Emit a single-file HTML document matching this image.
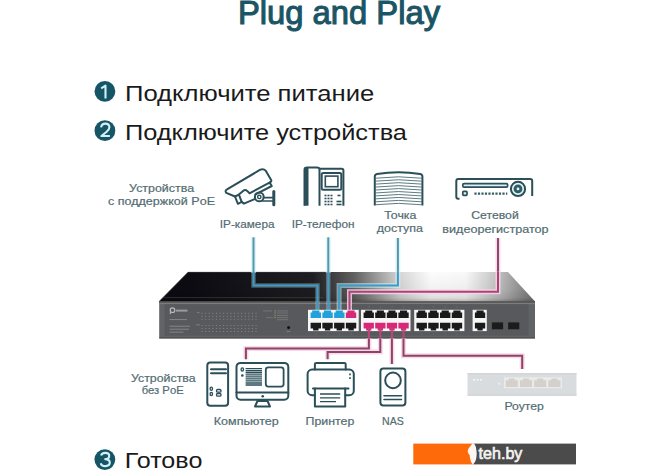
<!DOCTYPE html>
<html><head><meta charset="utf-8">
<style>
html,body{margin:0;padding:0;background:#fff;width:670px;height:471px;overflow:hidden}
svg{display:block}
text{font-family:"Liberation Sans",sans-serif}
.lbl{fill:#536c72;font-size:11.3px;stroke:#536c72;stroke-width:0.2px}
.ic{fill:none;stroke:#2a4f58;stroke-width:2;stroke-linecap:round;stroke-linejoin:round}
</style></head>
<body>
<svg width="670" height="471" viewBox="0 0 670 471">
<defs>
<linearGradient id="topg" x1="188" y1="0" x2="535" y2="0" gradientUnits="userSpaceOnUse">
<stop offset="0" stop-color="#0c0b12"/>
<stop offset="0.36" stop-color="#1e1e22"/>
<stop offset="0.48" stop-color="#626262"/>
<stop offset="0.61" stop-color="#d6d6d6"/>
<stop offset="0.7" stop-color="#fcfcfc"/>
<stop offset="0.8" stop-color="#f8f8f8"/>
<stop offset="0.9" stop-color="#bdbdbd"/>
<stop offset="1" stop-color="#737373"/>
</linearGradient>
<linearGradient id="topv" x1="0" y1="272" x2="0" y2="301.5" gradientUnits="userSpaceOnUse">
<stop offset="0" stop-color="#000" stop-opacity="0"/>
<stop offset="0.6" stop-color="#000" stop-opacity="0.04"/>
<stop offset="0.88" stop-color="#000" stop-opacity="0.12"/>
<stop offset="1" stop-color="#000" stop-opacity="0.28"/>
</linearGradient>
</defs>

<text x="238" y="23.8" font-size="33" fill="#1b5565" textLength="202" lengthAdjust="spacingAndGlyphs" stroke="#1b5565" stroke-width="1.1">Plug and Play</text>
<circle cx="104.9" cy="91.4" r="10.4" fill="#165565"/>
<path d="M101.2,88.4 L105.5,85.7 V98.5" fill="none" stroke="#d2f1f6" stroke-width="2.1" stroke-linejoin="round"/>
<text x="125" y="100.6" font-size="22" fill="#1a1a1a" textLength="249.2" lengthAdjust="spacingAndGlyphs" >Подключите питание</text>
<circle cx="104.9" cy="130.7" r="10.4" fill="#165565"/>
<path d="M101.1,127.4 Q101.5,123.6 105.4,123.6 Q109.4,123.6 109.4,127.3 Q109.4,129.6 106.4,132 L101.4,136 H109.9" fill="none" stroke="#d2f1f6" stroke-width="2.1" stroke-linejoin="round"/>
<text x="125" y="140.0" font-size="22" fill="#1a1a1a" textLength="282" lengthAdjust="spacingAndGlyphs" >Подключите устройства</text>
<text class="lbl" x="129.1" y="192" textLength="65" lengthAdjust="spacingAndGlyphs">Устройства</text>
<text class="lbl" x="108" y="205.4" textLength="107" lengthAdjust="spacingAndGlyphs">с поддержкой PoE</text>
<text class="lbl" x="219.8" y="228.1" textLength="54.7" lengthAdjust="spacingAndGlyphs">IP-камера</text>
<text class="lbl" x="291.7" y="228.3" textLength="62.8" lengthAdjust="spacingAndGlyphs">IP-телефон</text>
<text class="lbl" x="384.2" y="219.2" textLength="32.2" lengthAdjust="spacingAndGlyphs">Точка</text>
<text class="lbl" x="376.8" y="231.8" textLength="46.2" lengthAdjust="spacingAndGlyphs">доступа</text>
<text class="lbl" x="471.2" y="219.3" textLength="47.6" lengthAdjust="spacingAndGlyphs">Сетевой</text>
<text class="lbl" x="442.3" y="232.6" textLength="106.3" lengthAdjust="spacingAndGlyphs">видеорегистратор</text>
<g class="ic" stroke-width="1.9">
<path d="M226.3,192.8 Q224.6,190.6 227,189.4 L260.3,169.7 Q263.5,168.3 265.6,170.6 L271.3,180.2 Q271.6,181.6 270,182.4 L249.5,193.3 L247.2,190.9 Q245.5,189.5 243.7,190.4 L238.9,194.6 L235,196.5 Z"/>
<path d="M269.6,182.6 L271.8,186 L255.5,194.3"/>
<path d="M241.7,201.9 L243.9,203.6 L254.6,199.2"/>
<path d="M235,196.5 L237.9,203.8 L241.7,201.9 L238.9,194.6"/>
<circle cx="259.3" cy="196.9" r="4.4"/>
<circle cx="259.3" cy="196.9" r="1.7" stroke-width="1.4"/>
<path d="M263.4,197.6 H272.5 M262.6,201 H272.5" stroke-width="1.6"/>
<path d="M273.8,191.6 V204.8" stroke-width="3"/>
</g>
<g transform="translate(290.5,155.7)">
<path d="M14,50 V14 Q14,11.7 16.5,11.7 H26.5 Q29,11.7 29,14 V50" fill="none" stroke="#2a4f58" stroke-width="2"/>
<rect x="14" y="12" width="4" height="38" fill="#2a4f58"/>
<path d="M29,13 H51.3 Q52.9,13 52.9,14.6 V50" fill="none" stroke="#2a4f58" stroke-width="2"/>
<rect x="31.2" y="17.3" width="19.6" height="16.8" rx="1.5" fill="none" stroke="#2a4f58" stroke-width="2"/>
<rect x="34.8" y="20.4" width="12.6" height="10.6" fill="none" stroke="#2a4f58" stroke-width="1.6"/>
<g fill="#2a4f58">
<rect x="34" y="39" width="2" height="1.6"/>
<rect x="37" y="39" width="2" height="1.6"/>
<rect x="40" y="39" width="2" height="1.6"/>
<rect x="34" y="42" width="2" height="1.6"/>
<rect x="37" y="42" width="2" height="1.6"/>
<rect x="40" y="42" width="2" height="1.6"/>
<rect x="34" y="45" width="2" height="1.6"/>
<rect x="37" y="45" width="2" height="1.6"/>
<rect x="40" y="45" width="2" height="1.6"/>
<rect x="34" y="48" width="2" height="1.6"/>
<rect x="37" y="48" width="2" height="1.6"/>
<rect x="40" y="48" width="2" height="1.6"/>
<rect x="47" y="39" width="3" height="1.6"/><rect x="46" y="45" width="5" height="1.6"/><rect x="46" y="48" width="5" height="1.6"/>
</g></g>
<g fill="none" stroke="#2a4f58">
<path d="M374.8,205.6 V176.5 Q374.8,174.3 377,173.9 Q398.6,170.6 420.2,173.9 Q422.4,174.3 422.4,176.5 V205.6" stroke-width="2"/>
<path d="M375.6,178.20 Q398.6,175.40 421.6,178.20" stroke-width="0.9" stroke="#4a6c74"/>
<path d="M375.6,181.15 Q398.6,178.35 421.6,181.15" stroke-width="0.9" stroke="#4a6c74"/>
<path d="M375.6,184.10 Q398.6,181.30 421.6,184.10" stroke-width="0.9" stroke="#4a6c74"/>
<path d="M375.6,187.05 Q398.6,184.25 421.6,187.05" stroke-width="0.9" stroke="#4a6c74"/>
<path d="M375.6,190.00 Q398.6,187.20 421.6,190.00" stroke-width="0.9" stroke="#4a6c74"/>
<path d="M375.6,192.95 Q398.6,190.15 421.6,192.95" stroke-width="0.9" stroke="#4a6c74"/>
<path d="M375.6,195.90 Q398.6,193.10 421.6,195.90" stroke-width="0.9" stroke="#4a6c74"/>
<path d="M375.6,198.85 Q398.6,196.05 421.6,198.85" stroke-width="0.9" stroke="#4a6c74"/>
<path d="M375.6,201.80 Q398.6,199.00 421.6,201.80" stroke-width="0.9" stroke="#4a6c74"/>
<path d="M375.6,204.75 Q398.6,201.95 421.6,204.75" stroke-width="0.9" stroke="#4a6c74"/>
</g>
<g transform="translate(445,165)" fill="none" stroke="#2a4f58">
<path d="M14.5,33.8 H13.2 Q11.3,33.8 11.3,31.8 V16 Q11.3,14 13.3,14 H85.2 Q87.2,14 87.2,16 V31" stroke-width="2"/>
<rect x="17.8" y="18.6" width="44.8" height="3.6" rx="1.2" stroke-width="1.7" fill="#d8f0f3"/>
<rect x="17.8" y="26.4" width="4.2" height="4" rx="0.8" stroke-width="1.7" fill="#d8f0f3"/>
<path d="M29.4,28.6 H62.3" stroke-width="2.2" stroke-dasharray="2.2 1.3" stroke="#3a5e66"/>
<circle cx="73" cy="23.9" r="7.1" stroke-width="2" fill="#e0f4f6"/>
<circle cx="73" cy="23.9" r="4.4" fill="#2f5c66" stroke="none"/>
<circle cx="73" cy="23.9" r="1.4" fill="#e8f8fa" stroke="none"/>
</g>
<polygon points="188,272 508,272 535,301.5 159,301.5" fill="url(#topg)"/>
<polygon points="188,272 508,272 535,301.5 159,301.5" fill="url(#topv)"/>
<polyline points="159.3,301.3 188.2,272.3 330,272.3" fill="none" stroke="#3c3c3c" stroke-width="0.9" opacity="0.7"/>
<rect x="159.2" y="301.6" width="375.8" height="36.8" fill="#616366"/>
<rect x="159.2" y="301.4" width="375.8" height="1.2" fill="#353535"/>
<rect x="159.2" y="302.6" width="375.8" height="1.6" fill="#7c7c7c"/>
<rect x="164.6" y="304.2" width="364" height="31.4" fill="#57595c"/>
<rect x="159.2" y="337.6" width="375.8" height="0.8" fill="#3a3a3a"/>
<rect x="163.5" y="297.2" width="160" height="0.9" fill="#555" opacity="0.5"/>
<g fill="#d0d0d0" opacity="0.8">
<path d="M170,314 L171.2,311.8" stroke="#d0d0d0" stroke-width="1.2" fill="none"/>
<circle cx="172.5" cy="310.2" r="2.3" fill="none" stroke="#d0d0d0" stroke-width="1.2"/>
<rect x="176" y="309.6" width="11.5" height="2" opacity="0.7"/>
</g>
<g fill="#bdbdbd" opacity="0.4">
<rect x="169.5" y="319" width="17.5" height="1.1"/>
<rect x="169.5" y="325.7" width="20.5" height="1.1"/>
<rect x="169.5" y="328.7" width="19.5" height="1.1"/>
<rect x="169.5" y="331.6" width="14" height="1.1"/>
</g>
<g fill="#a8a8a8" opacity="0.6">
<rect x="201.5" y="312.8" width="1.1" height="0.9"/>
<rect x="205.1" y="312.8" width="1.1" height="0.9"/>
<rect x="208.7" y="312.8" width="1.1" height="0.9"/>
<rect x="212.3" y="312.8" width="1.1" height="0.9"/>
<rect x="215.9" y="312.8" width="1.1" height="0.9"/>
<rect x="219.5" y="312.8" width="1.1" height="0.9"/>
<rect x="223.1" y="312.8" width="1.1" height="0.9"/>
<rect x="226.7" y="312.8" width="1.1" height="0.9"/>
<rect x="230.3" y="312.8" width="1.1" height="0.9"/>
<rect x="233.9" y="312.8" width="1.1" height="0.9"/>
<rect x="237.5" y="312.8" width="1.1" height="0.9"/>
<rect x="241.1" y="312.8" width="1.1" height="0.9"/>
<rect x="244.7" y="312.8" width="1.1" height="0.9"/>
<rect x="248.3" y="312.8" width="1.1" height="0.9"/>
<rect x="251.9" y="312.8" width="1.1" height="0.9"/>
<rect x="255.5" y="312.8" width="1.1" height="0.9"/>
<rect x="201.5" y="315.8" width="1.1" height="0.9"/>
<rect x="205.1" y="315.8" width="1.1" height="0.9"/>
<rect x="208.7" y="315.8" width="1.1" height="0.9"/>
<rect x="212.3" y="315.8" width="1.1" height="0.9"/>
<rect x="215.9" y="315.8" width="1.1" height="0.9"/>
<rect x="219.5" y="315.8" width="1.1" height="0.9"/>
<rect x="223.1" y="315.8" width="1.1" height="0.9"/>
<rect x="226.7" y="315.8" width="1.1" height="0.9"/>
<rect x="230.3" y="315.8" width="1.1" height="0.9"/>
<rect x="233.9" y="315.8" width="1.1" height="0.9"/>
<rect x="237.5" y="315.8" width="1.1" height="0.9"/>
<rect x="241.1" y="315.8" width="1.1" height="0.9"/>
<rect x="244.7" y="315.8" width="1.1" height="0.9"/>
<rect x="248.3" y="315.8" width="1.1" height="0.9"/>
<rect x="251.9" y="315.8" width="1.1" height="0.9"/>
<rect x="255.5" y="315.8" width="1.1" height="0.9"/>
<rect x="201.5" y="318.8" width="1.1" height="0.9"/>
<rect x="205.1" y="318.8" width="1.1" height="0.9"/>
<rect x="208.7" y="318.8" width="1.1" height="0.9"/>
<rect x="212.3" y="318.8" width="1.1" height="0.9"/>
<rect x="215.9" y="318.8" width="1.1" height="0.9"/>
<rect x="219.5" y="318.8" width="1.1" height="0.9"/>
<rect x="223.1" y="318.8" width="1.1" height="0.9"/>
<rect x="226.7" y="318.8" width="1.1" height="0.9"/>
<rect x="230.3" y="318.8" width="1.1" height="0.9"/>
<rect x="233.9" y="318.8" width="1.1" height="0.9"/>
<rect x="237.5" y="318.8" width="1.1" height="0.9"/>
<rect x="241.1" y="318.8" width="1.1" height="0.9"/>
<rect x="244.7" y="318.8" width="1.1" height="0.9"/>
<rect x="248.3" y="318.8" width="1.1" height="0.9"/>
<rect x="251.9" y="318.8" width="1.1" height="0.9"/>
<rect x="255.5" y="318.8" width="1.1" height="0.9"/>
<rect x="201.5" y="325.0" width="1.1" height="0.9"/>
<rect x="205.1" y="325.0" width="1.1" height="0.9"/>
<rect x="208.7" y="325.0" width="1.1" height="0.9"/>
<rect x="212.3" y="325.0" width="1.1" height="0.9"/>
<rect x="215.9" y="325.0" width="1.1" height="0.9"/>
<rect x="219.5" y="325.0" width="1.1" height="0.9"/>
<rect x="223.1" y="325.0" width="1.1" height="0.9"/>
<rect x="226.7" y="325.0" width="1.1" height="0.9"/>
<rect x="230.3" y="325.0" width="1.1" height="0.9"/>
<rect x="233.9" y="325.0" width="1.1" height="0.9"/>
<rect x="237.5" y="325.0" width="1.1" height="0.9"/>
<rect x="241.1" y="325.0" width="1.1" height="0.9"/>
<rect x="244.7" y="325.0" width="1.1" height="0.9"/>
<rect x="248.3" y="325.0" width="1.1" height="0.9"/>
<rect x="251.9" y="325.0" width="1.1" height="0.9"/>
<rect x="255.5" y="325.0" width="1.1" height="0.9"/>
<rect x="201.5" y="328.0" width="1.1" height="0.9"/>
<rect x="205.1" y="328.0" width="1.1" height="0.9"/>
<rect x="208.7" y="328.0" width="1.1" height="0.9"/>
<rect x="212.3" y="328.0" width="1.1" height="0.9"/>
<rect x="215.9" y="328.0" width="1.1" height="0.9"/>
<rect x="219.5" y="328.0" width="1.1" height="0.9"/>
<rect x="223.1" y="328.0" width="1.1" height="0.9"/>
<rect x="226.7" y="328.0" width="1.1" height="0.9"/>
<rect x="230.3" y="328.0" width="1.1" height="0.9"/>
<rect x="233.9" y="328.0" width="1.1" height="0.9"/>
<rect x="237.5" y="328.0" width="1.1" height="0.9"/>
<rect x="241.1" y="328.0" width="1.1" height="0.9"/>
<rect x="244.7" y="328.0" width="1.1" height="0.9"/>
<rect x="248.3" y="328.0" width="1.1" height="0.9"/>
<rect x="251.9" y="328.0" width="1.1" height="0.9"/>
<rect x="255.5" y="328.0" width="1.1" height="0.9"/>
<rect x="201.5" y="331.0" width="1.1" height="0.9"/>
<rect x="205.1" y="331.0" width="1.1" height="0.9"/>
<rect x="208.7" y="331.0" width="1.1" height="0.9"/>
<rect x="212.3" y="331.0" width="1.1" height="0.9"/>
<rect x="215.9" y="331.0" width="1.1" height="0.9"/>
<rect x="219.5" y="331.0" width="1.1" height="0.9"/>
<rect x="223.1" y="331.0" width="1.1" height="0.9"/>
<rect x="226.7" y="331.0" width="1.1" height="0.9"/>
<rect x="230.3" y="331.0" width="1.1" height="0.9"/>
<rect x="233.9" y="331.0" width="1.1" height="0.9"/>
<rect x="237.5" y="331.0" width="1.1" height="0.9"/>
<rect x="241.1" y="331.0" width="1.1" height="0.9"/>
<rect x="244.7" y="331.0" width="1.1" height="0.9"/>
<rect x="248.3" y="331.0" width="1.1" height="0.9"/>
<rect x="251.9" y="331.0" width="1.1" height="0.9"/>
<rect x="255.5" y="331.0" width="1.1" height="0.9"/>
<rect x="197" y="312.3" width="2.5" height="0.8"/><rect x="196" y="324.5" width="4" height="0.8"/>
</g>
<g fill="#b0b0b0" opacity="0.35">
<rect x="277" y="310.5" width="11" height="0.9"/>
<rect x="277" y="312.6" width="11" height="0.9"/>
<rect x="277" y="315.1" width="11" height="0.9"/>
<rect x="277" y="317.2" width="11" height="0.9"/>
<rect x="277" y="319.3" width="11" height="0.9"/>
<rect x="263" y="310.5" width="9" height="0.9"/><rect x="266" y="317.2" width="7" height="0.9"/>
</g>
<g fill="#a6b86a" opacity="0.7"><rect x="274.5" y="310.3" width="1.2" height="1.2"/><rect x="274.5" y="312.4" width="1.2" height="1.2"/><rect x="274.5" y="314.9" width="1.2" height="1.2"/><rect x="274.5" y="317" width="1.2" height="1.2"/></g>
<circle cx="288.6" cy="327.6" r="1.5" fill="#111"/>
<rect x="286.5" y="331" width="4" height="0.9" fill="#9a9a9a" opacity="0.6"/>
<path d="M253.5,237.3 V272.5" fill="none" stroke="#d9f5f9" stroke-width="5" opacity="0.9"/>
<path d="M253.5,237.3 V272.5" fill="none" stroke="#5796a8" stroke-width="2"/>
<path d="M328.3,237.3 V272.5" fill="none" stroke="#d9f5f9" stroke-width="5" opacity="0.9"/>
<path d="M328.3,237.3 V272.5" fill="none" stroke="#5796a8" stroke-width="2"/>
<path d="M397.9,238 V272.5" fill="none" stroke="#d9f5f9" stroke-width="5" opacity="0.9"/>
<path d="M397.9,238 V272.5" fill="none" stroke="#5796a8" stroke-width="2"/>
<path d="M498,238 V272.5" fill="none" stroke="#f8d5e4" stroke-width="5" opacity="0.9"/>
<path d="M498,238 V272.5" fill="none" stroke="#8e4a6c" stroke-width="2"/>
<path d="M253.5,271.5 V285.4 H317.5 V314" fill="none" stroke="#d9f5f9" stroke-width="4.5" opacity="0.3"/>
<path d="M253.5,271.5 V285.4 H317.5 V314" fill="none" stroke="#3a9ccb" stroke-width="2"/>
<path d="M328.3,271.5 V314" fill="none" stroke="#d9f5f9" stroke-width="4.5" opacity="0.3"/>
<path d="M328.3,271.5 V314" fill="none" stroke="#3a9ccb" stroke-width="2"/>
<path d="M397.9,271.5 V285.4 H339.1 V314" fill="none" stroke="#d9f5f9" stroke-width="5" opacity="0.5"/>
<path d="M397.9,271.5 V285.4 H339.1 V314" fill="none" stroke="#3a9ccb" stroke-width="2"/>
<path d="M498,271.5 V291.7 H349.5 V314" fill="none" stroke="#f8d5e4" stroke-width="5" opacity="0.85"/>
<path d="M498,271.5 V291.7 H349.5 V314" fill="none" stroke="#a8447a" stroke-width="2"/>
<rect x="308.00" y="309.8" width="50.70" height="21.3" fill="#f6f6f6"/>
<rect x="361.00" y="309.8" width="49.50" height="21.3" fill="#f6f6f6"/>
<rect x="414.20" y="309.8" width="50.20" height="21.3" fill="#f6f6f6"/>
<rect x="472.60" y="309.8" width="14.20" height="21.3" fill="#f6f6f6"/>
<path d="M310.60,312.6 H312.20 V310.4 H319.40 V312.6 H321.00 V317.9 H310.60 Z" fill="#22a0da"/>
<path d="M310.60,322.8 H321.00 V328.4 H318.50 V330.5 H313.10 V328.4 H310.60 Z" fill="#1a1a1a"/>
<path d="M322.35,312.6 H323.95 V310.4 H331.15 V312.6 H332.75 V317.9 H322.35 Z" fill="#22a0da"/>
<path d="M322.35,322.8 H332.75 V328.4 H330.25 V330.5 H324.85 V328.4 H322.35 Z" fill="#1a1a1a"/>
<path d="M334.10,312.6 H335.70 V310.4 H342.90 V312.6 H344.50 V317.9 H334.10 Z" fill="#22a0da"/>
<path d="M334.10,322.8 H344.50 V328.4 H342.00 V330.5 H336.60 V328.4 H334.10 Z" fill="#1a1a1a"/>
<path d="M345.85,312.6 H347.45 V310.4 H354.65 V312.6 H356.25 V317.9 H345.85 Z" fill="#d8287a"/>
<path d="M345.85,322.8 H356.25 V328.4 H353.75 V330.5 H348.35 V328.4 H345.85 Z" fill="#1a1a1a"/>
<path d="M363.60,312.6 H365.20 V310.4 H372.30 V312.6 H373.90 V317.9 H363.60 Z" fill="#1a1a1a"/>
<path d="M363.60,322.8 H373.90 V328.4 H371.40 V330.5 H366.10 V328.4 H363.60 Z" fill="#d8287a"/>
<path d="M375.20,312.6 H376.80 V310.4 H383.90 V312.6 H385.50 V317.9 H375.20 Z" fill="#1a1a1a"/>
<path d="M375.20,322.8 H385.50 V328.4 H383.00 V330.5 H377.70 V328.4 H375.20 Z" fill="#d8287a"/>
<path d="M386.80,312.6 H388.40 V310.4 H395.50 V312.6 H397.10 V317.9 H386.80 Z" fill="#1a1a1a"/>
<path d="M386.80,322.8 H397.10 V328.4 H394.60 V330.5 H389.30 V328.4 H386.80 Z" fill="#d8287a"/>
<path d="M398.40,312.6 H400.00 V310.4 H407.10 V312.6 H408.70 V317.9 H398.40 Z" fill="#1a1a1a"/>
<path d="M398.40,322.8 H408.70 V328.4 H406.20 V330.5 H400.90 V328.4 H398.40 Z" fill="#d8287a"/>
<path d="M416.50,312.6 H418.10 V310.4 H425.30 V312.6 H426.90 V317.9 H416.50 Z" fill="#1a1a1a"/>
<path d="M416.50,322.8 H426.90 V328.4 H424.40 V330.5 H419.00 V328.4 H416.50 Z" fill="#1a1a1a"/>
<path d="M428.25,312.6 H429.85 V310.4 H437.05 V312.6 H438.65 V317.9 H428.25 Z" fill="#1a1a1a"/>
<path d="M428.25,322.8 H438.65 V328.4 H436.15 V330.5 H430.75 V328.4 H428.25 Z" fill="#1a1a1a"/>
<path d="M440.00,312.6 H441.60 V310.4 H448.80 V312.6 H450.40 V317.9 H440.00 Z" fill="#1a1a1a"/>
<path d="M440.00,322.8 H450.40 V328.4 H447.90 V330.5 H442.50 V328.4 H440.00 Z" fill="#1a1a1a"/>
<path d="M451.75,312.6 H453.35 V310.4 H460.55 V312.6 H462.15 V317.9 H451.75 Z" fill="#1a1a1a"/>
<path d="M451.75,322.8 H462.15 V328.4 H459.65 V330.5 H454.25 V328.4 H451.75 Z" fill="#1a1a1a"/>
<path d="M474.90,312.6 H476.50 V310.4 H483.60 V312.6 H485.20 V317.9 H474.90 Z" fill="#1a1a1a"/>
<path d="M474.90,322.8 H485.20 V328.4 H482.70 V330.5 H477.40 V328.4 H474.90 Z" fill="#1a1a1a"/>
<rect x="491.9" y="322.4" width="11.2" height="6.9" fill="#1c1c1c"/>
<rect x="508.1" y="322.4" width="11.2" height="6.9" fill="#1c1c1c"/>
<g fill="#8a8a8a" opacity="0.6">
<rect x="421.2" y="306.5" width="1.2" height="0.8"/>
<rect x="421.2" y="333.7" width="1.2" height="0.8"/>
<rect x="432.9" y="306.5" width="1.2" height="0.8"/>
<rect x="432.9" y="333.7" width="1.2" height="0.8"/>
<rect x="444.7" y="306.5" width="1.2" height="0.8"/>
<rect x="444.7" y="333.7" width="1.2" height="0.8"/>
<rect x="456.4" y="306.5" width="1.2" height="0.8"/>
<rect x="456.4" y="333.7" width="1.2" height="0.8"/>
<rect x="368.3" y="306.5" width="1.2" height="0.8"/>
<rect x="368.3" y="333.7" width="1.2" height="0.8"/>
<rect x="379.9" y="306.5" width="1.2" height="0.8"/>
<rect x="379.9" y="333.7" width="1.2" height="0.8"/>
<rect x="391.5" y="306.5" width="1.2" height="0.8"/>
<rect x="391.5" y="333.7" width="1.2" height="0.8"/>
<rect x="403.1" y="306.5" width="1.2" height="0.8"/>
<rect x="403.1" y="333.7" width="1.2" height="0.8"/>
<rect x="315.3" y="306.5" width="1.2" height="0.8"/>
<rect x="315.3" y="333.7" width="1.2" height="0.8"/>
<rect x="327.1" y="306.5" width="1.2" height="0.8"/>
<rect x="327.1" y="333.7" width="1.2" height="0.8"/>
<rect x="338.8" y="306.5" width="1.2" height="0.8"/>
<rect x="338.8" y="333.7" width="1.2" height="0.8"/>
<rect x="350.6" y="306.5" width="1.2" height="0.8"/>
<rect x="350.6" y="333.7" width="1.2" height="0.8"/>
</g>
<path d="M368.9,338.5 V348.4 H245.9 V359.3" fill="none" stroke="#f8d5e4" stroke-width="5" opacity="0.9"/>
<path d="M380.3,338.5 V352 H327.6 V359.3" fill="none" stroke="#f8d5e4" stroke-width="5" opacity="0.9"/>
<path d="M391.9,338.5 V364" fill="none" stroke="#f8d5e4" stroke-width="5" opacity="0.9"/>
<path d="M403.5,338.5 V355.7 H522.2 V369" fill="none" stroke="#f8d5e4" stroke-width="5" opacity="0.9"/>
<path d="M368.9,338.5 V348.4 H245.9 V359.3" fill="none" stroke="#8c4468" stroke-width="2"/>
<path d="M380.3,338.5 V352 H327.6 V359.3" fill="none" stroke="#8c4468" stroke-width="2"/>
<path d="M391.9,338.5 V364" fill="none" stroke="#8c4468" stroke-width="2"/>
<path d="M403.5,338.5 V355.7 H522.2 V369" fill="none" stroke="#8c4468" stroke-width="2"/>
<path d="M368.9,328 V338.5" fill="none" stroke="#c2427a" stroke-width="2"/>
<path d="M380.3,328 V338.5" fill="none" stroke="#c2427a" stroke-width="2"/>
<path d="M391.9,328 V338.5" fill="none" stroke="#c2427a" stroke-width="2"/>
<path d="M403.5,328 V338.5" fill="none" stroke="#c2427a" stroke-width="2"/>
<text class="lbl" x="131" y="381.5" textLength="64.6" lengthAdjust="spacingAndGlyphs">Устройства</text>
<text class="lbl" x="141.7" y="394.2" textLength="42" lengthAdjust="spacingAndGlyphs">без PoE</text>
<text class="lbl" x="213.8" y="424.7" textLength="64.9" lengthAdjust="spacingAndGlyphs">Компьютер</text>
<text class="lbl" x="305.6" y="424.7" textLength="48.7" lengthAdjust="spacingAndGlyphs">Принтер</text>
<text class="lbl" x="382" y="424.5" textLength="21.8" lengthAdjust="spacingAndGlyphs">NAS</text>
<text class="lbl" x="504.4" y="409.6" textLength="39.5" lengthAdjust="spacingAndGlyphs">Роутер</text>
<g class="ic">
<rect x="207.3" y="362.6" width="20.8" height="43.2" rx="3"/>
<path d="M211,369.3 H226 M211,373.3 H226"/>
<rect x="236.5" y="362.9" width="51.8" height="36.8" rx="4"/>
<path d="M236.5,392.5 H288.3"/>
<path d="M255,406.5 L257.5,401 H267.5 L270,406.5 Z"/>
<rect x="265.8" y="367.3" width="17.8" height="19.3" rx="2.5" stroke-width="1.8"/>
</g>
<circle cx="262.7" cy="396.3" r="1.3" fill="#2a4f58"/>
<g fill="none" stroke="#2a4f58" stroke-width="1.35">
<path d="M245.6,368.6 H262 M245.6,370.7 H262 M245.6,372.7 H262 M245.6,374.8 H262 M245.6,376.8 H262 M245.6,378.9 H262 M245.6,380.9 H262 M245.6,383.0 H262 M245.6,385.0 H262"/>
<ellipse cx="242.3" cy="369.5" rx="1.2" ry="1.6"/>
<ellipse cx="211.3" cy="388.8" rx="1.2" ry="1.6"/>
<ellipse cx="211.3" cy="394" rx="1.2" ry="1.6"/>
<rect x="216.5" y="389.5" width="4.5" height="2.6" rx="1.2"/>
<rect x="216.5" y="393.5" width="4.5" height="2.6" rx="1.2"/>
</g>
<circle cx="242.3" cy="375.5" r="1.3" fill="#2a4f58"/>
<g class="ic">
<path d="M314.9,369.5 V364.2 Q314.9,362.9 316.2,362.9 H344.4 Q345.7,362.9 345.7,364.2 V369.5"/>
<rect x="307.6" y="369.6" width="46.2" height="25.6" rx="4.5"/>
</g>
<rect x="315.6" y="389" width="29" height="17" fill="#fff"/>
<g class="ic"><path d="M313,388.5 H348.5"/><path d="M314.9,388.5 V406.5 H345.2 V388.5"/></g>
<path d="M320,394 H340.2 M320,397.8 H340.2 M320,401.6 H336" stroke="#2a4f58" stroke-width="1.3"/>
<rect x="349.2" y="373.5" width="1.6" height="1.8" fill="#2a4f58"/>
<rect x="349.2" y="377.2" width="1.6" height="1.8" fill="#2a4f58"/>
<g class="ic">
<rect x="380.4" y="368.5" width="25" height="37" rx="3"/>
<circle cx="393" cy="380.4" r="7.8"/>
<path d="M384,395.7 H401.5 M384,399.5 H401.5" stroke-width="1.6"/>
</g>
<rect x="467.5" y="373" width="109" height="22.8" fill="#d9dcde"/>
<rect x="467.5" y="373" width="109" height="1.5" fill="#d2d6d9"/>
<rect x="467.5" y="394.3" width="109" height="1.5" fill="#d3d6d8"/>
<rect x="504" y="377.2" width="58" height="11.1" fill="#e8eaeb"/>
<path d="M505.8,380.2 H508.8 V378.6 H514.8 V380.2 H517.8 V387 H505.8 Z" fill="#d5d0ca"/>
<path d="M520.0,380.2 H523.0 V378.6 H529.0 V380.2 H532.0 V387 H520.0 Z" fill="#d5d0ca"/>
<path d="M534.2,380.2 H537.2 V378.6 H543.2 V380.2 H546.2 V387 H534.2 Z" fill="#d5d0ca"/>
<path d="M548.4,380.2 H551.4 V378.6 H557.4 V380.2 H560.4 V387 H548.4 Z" fill="#d5d0ca"/>
<g fill="#f3f4f5"><rect x="473" y="379" width="2" height="1.6"/><rect x="476.5" y="379" width="2" height="1.6"/><rect x="480" y="379" width="2" height="1.6"/><rect x="498.5" y="383" width="1.6" height="1.6"/></g>
<circle cx="104.85" cy="459.6" r="10.4" fill="#165565"/>
<path d="M101.1,455.6 Q101.7,452.9 105.3,452.9 Q109.2,452.9 109.2,455.9 Q109.2,458.9 105.3,459.1 Q109.8,459.3 109.8,462.6 Q109.8,466.1 105.3,466.1 Q101.3,466.1 100.8,463.2" fill="none" stroke="#d2f1f6" stroke-width="2.1" stroke-linejoin="round"/>
<text x="124.8" y="468.1" font-size="21.2" fill="#1a1a1a" textLength="77.6" lengthAdjust="spacingAndGlyphs" >Готово</text>
<rect x="413.3" y="443.6" width="61" height="20.8" fill="#fe6a0a"/>
<rect x="474" y="443.6" width="102" height="20.8" fill="#4b4b4b"/>
<path d="M472.3,443.6 L474.2,443.6 Q476.7,447 476.7,452.5 Q476.7,459 475,462 L472.8,464.4 Q470.6,462.5 470.4,459.5 Q469.6,457 469.8,455.5 Q467.4,452.5 467.7,450.7 Q468.6,448.3 469.6,447 Q471.3,445.3 472.3,443.6 Z" fill="#fbf7f2"/>
<text x="478.6" y="459.3" font-size="15.6" fill="#f4f4f4" textLength="43.8" lengthAdjust="spacingAndGlyphs" stroke="#f4f4f4" stroke-width="0.6">teh.by</text>
</svg>
</body></html>
